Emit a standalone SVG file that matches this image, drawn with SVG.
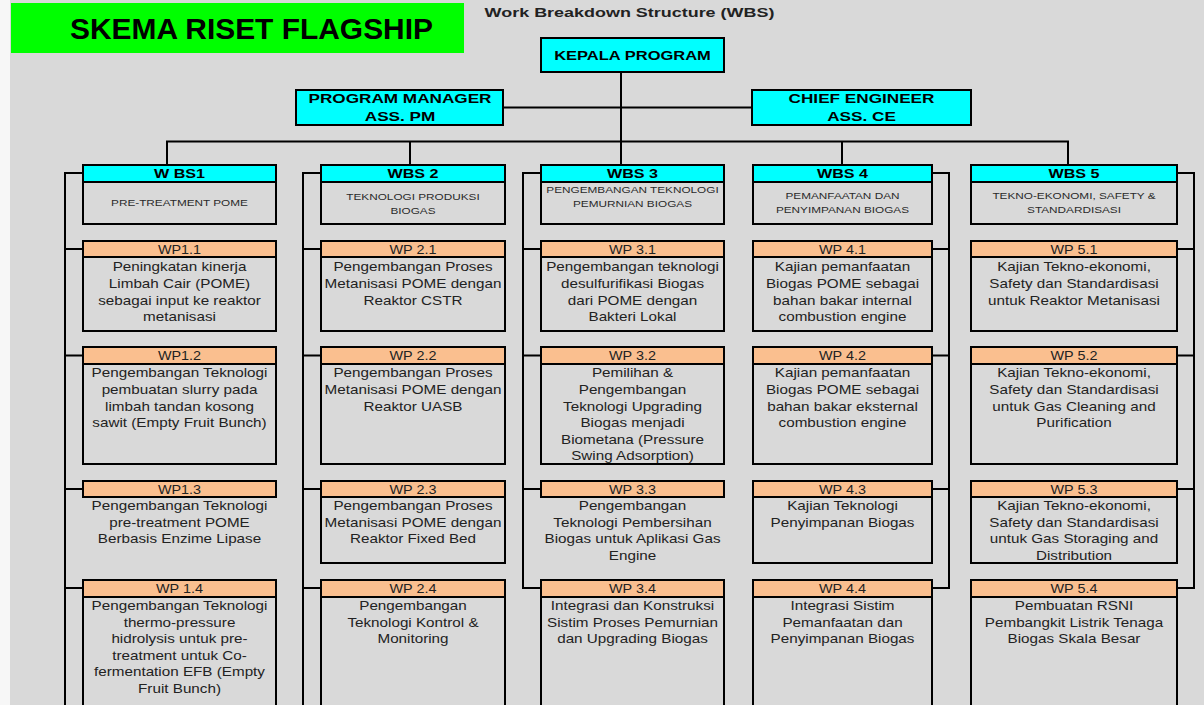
<svg xmlns="http://www.w3.org/2000/svg" width="1204" height="705" viewBox="0 0 1204 705">
<style>
.bx{stroke:#000;stroke-width:2}
.nb{stroke:none}
.cy{fill:#00ffff}
.pe{fill:#fabf8f}
.bd{fill:#d9d9d9}
.t{font-family:"Liberation Sans",Arial,sans-serif;text-anchor:middle;fill:#222}
.hb{font-weight:bold;font-size:13px;fill:#000}
.wb{font-size:9.5px;fill:#2a2a2a}
.wh{font-size:12px}
.wp{font-size:12px}
.ln{stroke:#000;stroke-width:2;fill:none}
</style>
<rect x="0" y="0" width="1204" height="705" fill="#d9d9d9"/>
<rect x="0" y="0" width="10" height="705" fill="#f7f7f7"/>

<g id="title">
<rect x="11" y="3" width="453" height="50" fill="#00ff00"/>
<text x="251.5" y="39" font-family="Liberation Sans,Arial,sans-serif" font-weight="bold" font-size="30" text-anchor="middle" textLength="363" lengthAdjust="spacingAndGlyphs" fill="#000">SKEMA RISET FLAGSHIP</text>
</g>
<g id="subtitle" transform="translate(629.5 0) scale(1.33 1)">
<text class="t" x="0" y="17" font-weight="bold" font-size="13.5" fill="#111">Work Breakdown Structure (WBS)</text>
</g>

<g id="connectors" class="ln">
<path d="M621 72V165"/>
<path d="M503 107.5H752"/>
<path d="M167 165V141.5H1068V165"/>
<path d="M410 141.5V165"/>
<path d="M842 141.5V165"/>
<path d="M83 173H65V705M65 249H83M65 355.5H83M65 489H83M65 588H83"/>
<path d="M321 173H303V705M303 249H321M303 355.5H321M303 489H321M303 588H321"/>
<path d="M541 173H523V588H541M523 249H541M523 355.5H541M523 489H541"/>
<path d="M932 173H949V588H932M949 249H932M949 355.5H932M949 489H932"/>
<path d="M1177 173H1194V588H1177M1194 249H1177M1194 355.5H1177M1194 489H1177"/>
</g>

<g id="kepala">
<rect class="bx cy" x="541" y="38" width="183" height="34"/>
<g transform="translate(632.5 0) scale(1.27 1)"><text class="t hb" x="0" y="60" font-size="14">KEPALA PROGRAM</text></g>
</g>
<g id="pm">
<rect class="bx cy" x="296" y="90" width="207" height="35"/>
<g transform="translate(400 0) scale(1.32 1)" class="t hb" font-size="12.5"><text x="0" y="103.5">PROGRAM MANAGER</text><text x="0" y="121">ASS. PM</text></g>
</g>
<g id="ce">
<rect class="bx cy" x="752" y="90" width="219" height="35"/>
<g transform="translate(861.5 0) scale(1.32 1)" class="t hb" font-size="12.5"><text x="0" y="103.5">CHIEF ENGINEER</text><text x="0" y="121">ASS. CE</text></g>
</g>

<!-- Column 1 -->
<g id="wbs1">
<rect class="bx bd" x="83" y="182" width="193" height="42"/>
<rect class="bx cy" x="83" y="165" width="193" height="17"/>
<g transform="translate(179.5 0) scale(1.24 1)"><text class="t hb" x="0" y="178.5">W BS1</text><text class="t wb" x="0" y="206.5">PRE-TREATMENT POME</text></g>
</g>
<g id="wp1-1">
<rect class="bx bd" x="83" y="257" width="193" height="74"/>
<rect class="bx pe" x="83" y="241" width="193" height="16"/>
<g transform="translate(179.5 0) scale(1.2 1)"><text class="t wh" x="0" y="254">WP1.1</text></g>
<g transform="translate(179.5 0) scale(1.27 1)" class="t wp"><text x="0" y="271.5">Peningkatan kinerja</text><text x="0" y="288">Limbah Cair (POME)</text><text x="0" y="304.7">sebagai input ke reaktor</text><text x="0" y="321.3">metanisasi</text></g>
</g>
<g id="wp1-2">
<rect class="bx bd" x="83" y="364" width="193" height="100"/>
<rect class="bx pe" x="83" y="347" width="193" height="17"/>
<g transform="translate(179.5 0) scale(1.2 1)"><text class="t wh" x="0" y="360.5">WP1.2</text></g>
<g transform="translate(179.5 0) scale(1.27 1)" class="t wp"><text x="0" y="377.5">Pengembangan Teknologi</text><text x="0" y="394">pembuatan slurry pada</text><text x="0" y="410.7">limbah tandan kosong</text><text x="0" y="427.3">sawit (Empty Fruit Bunch)</text></g>
</g>
<g id="wp1-3">
<rect class="nb bd" x="83" y="497" width="193" height="66"/>
<rect class="bx pe" x="83" y="481" width="193" height="16"/>
<g transform="translate(179.5 0) scale(1.2 1)"><text class="t wh" x="0" y="494">WP1.3</text></g>
<g transform="translate(179.5 0) scale(1.27 1)" class="t wp"><text x="0" y="510">Pengembangan Teknologi</text><text x="0" y="526.6">pre-treatment POME</text><text x="0" y="543.2">Berbasis Enzime Lipase</text></g>
</g>
<g id="wp1-4">
<rect class="bx bd" x="83" y="597" width="193" height="130"/>
<rect class="bx pe" x="83" y="580" width="193" height="17"/>
<g transform="translate(179.5 0) scale(1.2 1)"><text class="t wh" x="0" y="593">WP 1.4</text></g>
<g transform="translate(179.5 0) scale(1.27 1)" class="t wp"><text x="0" y="610">Pengembangan Teknologi</text><text x="0" y="626.6">thermo-pressure</text><text x="0" y="643.2">hidrolysis untuk pre-</text><text x="0" y="659.8">treatment untuk Co-</text><text x="0" y="676.4">fermentation EFB (Empty</text><text x="0" y="693">Fruit Bunch)</text></g>
</g>

<!-- Column 2 -->
<g id="wbs2">
<rect class="bx bd" x="321" y="182" width="184" height="42"/>
<rect class="bx cy" x="321" y="165" width="184" height="17"/>
<g transform="translate(413 0) scale(1.24 1)"><text class="t hb" x="0" y="178.5">WBS 2</text><text class="t wb" x="0" y="200">TEKNOLOGI PRODUKSI</text><text class="t wb" x="0" y="214">BIOGAS</text></g>
</g>
<g id="wp2-1">
<rect class="bx bd" x="321" y="257" width="184" height="74"/>
<rect class="bx pe" x="321" y="241" width="184" height="16"/>
<g transform="translate(413 0) scale(1.2 1)"><text class="t wh" x="0" y="254">WP 2.1</text></g>
<g transform="translate(413 0) scale(1.27 1)" class="t wp"><text x="0" y="271.5">Pengembangan Proses</text><text x="0" y="288">Metanisasi POME dengan</text><text x="0" y="304.7">Reaktor CSTR</text></g>
</g>
<g id="wp2-2">
<rect class="bx bd" x="321" y="364" width="184" height="100"/>
<rect class="bx pe" x="321" y="347" width="184" height="17"/>
<g transform="translate(413 0) scale(1.2 1)"><text class="t wh" x="0" y="360.5">WP 2.2</text></g>
<g transform="translate(413 0) scale(1.27 1)" class="t wp"><text x="0" y="377.5">Pengembangan Proses</text><text x="0" y="394">Metanisasi POME dengan</text><text x="0" y="410.7">Reaktor UASB</text></g>
</g>
<g id="wp2-3">
<rect class="bx bd" x="321" y="497" width="184" height="66"/>
<rect class="bx pe" x="321" y="481" width="184" height="16"/>
<g transform="translate(413 0) scale(1.2 1)"><text class="t wh" x="0" y="494">WP 2.3</text></g>
<g transform="translate(413 0) scale(1.27 1)" class="t wp"><text x="0" y="510">Pengembangan Proses</text><text x="0" y="526.6">Metanisasi POME dengan</text><text x="0" y="543.2">Reaktor Fixed Bed</text></g>
</g>
<g id="wp2-4">
<rect class="bx bd" x="321" y="597" width="184" height="130"/>
<rect class="bx pe" x="321" y="580" width="184" height="17"/>
<g transform="translate(413 0) scale(1.2 1)"><text class="t wh" x="0" y="593">WP 2.4</text></g>
<g transform="translate(413 0) scale(1.27 1)" class="t wp"><text x="0" y="610">Pengembangan</text><text x="0" y="626.6">Teknologi Kontrol &amp;</text><text x="0" y="643.2">Monitoring</text></g>
</g>

<!-- Column 3 -->
<g id="wbs3">
<rect class="bx bd" x="541" y="182" width="183" height="42"/>
<rect class="bx cy" x="541" y="165" width="183" height="17"/>
<g transform="translate(632.5 0) scale(1.24 1)"><text class="t hb" x="0" y="178.5">WBS 3</text><text class="t wb" x="0" y="192.6">PENGEMBANGAN TEKNOLOGI</text><text class="t wb" x="0" y="206.6">PEMURNIAN BIOGAS</text></g>
</g>
<g id="wp3-1">
<rect class="bx bd" x="541" y="257" width="183" height="74"/>
<rect class="bx pe" x="541" y="241" width="183" height="16"/>
<g transform="translate(632.5 0) scale(1.2 1)"><text class="t wh" x="0" y="254">WP 3.1</text></g>
<g transform="translate(632.5 0) scale(1.27 1)" class="t wp"><text x="0" y="271.5">Pengembangan teknologi</text><text x="0" y="288">desulfurifikasi Biogas</text><text x="0" y="304.7">dari POME dengan</text><text x="0" y="321.3">Bakteri Lokal</text></g>
</g>
<g id="wp3-2">
<rect class="bx bd" x="541" y="364" width="183" height="100"/>
<rect class="bx pe" x="541" y="347" width="183" height="17"/>
<g transform="translate(632.5 0) scale(1.2 1)"><text class="t wh" x="0" y="360.5">WP 3.2</text></g>
<g transform="translate(632.5 0) scale(1.27 1)" class="t wp"><text x="0" y="377.5">Pemilihan &amp;</text><text x="0" y="394">Pengembangan</text><text x="0" y="410.7">Teknologi Upgrading</text><text x="0" y="427.3">Biogas menjadi</text><text x="0" y="444">Biometana (Pressure</text><text x="0" y="460.3">Swing Adsorption)</text></g>
</g>
<g id="wp3-3">
<rect class="nb bd" x="541" y="497" width="183" height="66"/>
<rect class="bx pe" x="541" y="481" width="183" height="16"/>
<g transform="translate(632.5 0) scale(1.2 1)"><text class="t wh" x="0" y="494">WP 3.3</text></g>
<g transform="translate(632.5 0) scale(1.27 1)" class="t wp"><text x="0" y="510">Pengembangan</text><text x="0" y="526.6">Teknologi Pembersihan</text><text x="0" y="543.2">Biogas untuk Aplikasi Gas</text><text x="0" y="559.8">Engine</text></g>
</g>
<g id="wp3-4">
<rect class="bx bd" x="541" y="597" width="183" height="130"/>
<rect class="bx pe" x="541" y="580" width="183" height="17"/>
<g transform="translate(632.5 0) scale(1.2 1)"><text class="t wh" x="0" y="593">WP 3.4</text></g>
<g transform="translate(632.5 0) scale(1.27 1)" class="t wp"><text x="0" y="610">Integrasi dan Konstruksi</text><text x="0" y="626.6">Sistim Proses Pemurnian</text><text x="0" y="643.2">dan Upgrading Biogas</text></g>
</g>

<!-- Column 4 -->
<g id="wbs4">
<rect class="bx bd" x="753" y="182" width="179" height="42"/>
<rect class="bx cy" x="753" y="165" width="179" height="17"/>
<g transform="translate(842.5 0) scale(1.24 1)"><text class="t hb" x="0" y="178.5">WBS 4</text><text class="t wb" x="0" y="199.5">PEMANFAATAN DAN</text><text class="t wb" x="0" y="213.5">PENYIMPANAN BIOGAS</text></g>
</g>
<g id="wp4-1">
<rect class="bx bd" x="753" y="257" width="179" height="74"/>
<rect class="bx pe" x="753" y="241" width="179" height="16"/>
<g transform="translate(842.5 0) scale(1.2 1)"><text class="t wh" x="0" y="254">WP 4.1</text></g>
<g transform="translate(842.5 0) scale(1.27 1)" class="t wp"><text x="0" y="271.5">Kajian pemanfaatan</text><text x="0" y="288">Biogas POME sebagai</text><text x="0" y="304.7">bahan bakar internal</text><text x="0" y="321.3">combustion engine</text></g>
</g>
<g id="wp4-2">
<rect class="bx bd" x="753" y="364" width="179" height="100"/>
<rect class="bx pe" x="753" y="347" width="179" height="17"/>
<g transform="translate(842.5 0) scale(1.2 1)"><text class="t wh" x="0" y="360.5">WP 4.2</text></g>
<g transform="translate(842.5 0) scale(1.27 1)" class="t wp"><text x="0" y="377.5">Kajian pemanfaatan</text><text x="0" y="394">Biogas POME sebagai</text><text x="0" y="410.7">bahan bakar eksternal</text><text x="0" y="427.3">combustion engine</text></g>
</g>
<g id="wp4-3">
<rect class="bx bd" x="753" y="497" width="179" height="66"/>
<rect class="bx pe" x="753" y="481" width="179" height="16"/>
<g transform="translate(842.5 0) scale(1.2 1)"><text class="t wh" x="0" y="494">WP 4.3</text></g>
<g transform="translate(842.5 0) scale(1.27 1)" class="t wp"><text x="0" y="510">Kajian Teknologi</text><text x="0" y="526.6">Penyimpanan Biogas</text></g>
</g>
<g id="wp4-4">
<rect class="bx bd" x="753" y="597" width="179" height="130"/>
<rect class="bx pe" x="753" y="580" width="179" height="17"/>
<g transform="translate(842.5 0) scale(1.2 1)"><text class="t wh" x="0" y="593">WP 4.4</text></g>
<g transform="translate(842.5 0) scale(1.27 1)" class="t wp"><text x="0" y="610">Integrasi Sistim</text><text x="0" y="626.6">Pemanfaatan dan</text><text x="0" y="643.2">Penyimpanan Biogas</text></g>
</g>

<!-- Column 5 -->
<g id="wbs5">
<rect class="bx bd" x="971" y="182" width="206" height="42"/>
<rect class="bx cy" x="971" y="165" width="206" height="17"/>
<g transform="translate(1074 0) scale(1.24 1)"><text class="t hb" x="0" y="178.5">WBS 5</text><text class="t wb" x="0" y="199.5">TEKNO-EKONOMI, SAFETY &amp;</text><text class="t wb" x="0" y="213.5">STANDARDISASI</text></g>
</g>
<g id="wp5-1">
<rect class="bx bd" x="971" y="257" width="206" height="74"/>
<rect class="bx pe" x="971" y="241" width="206" height="16"/>
<g transform="translate(1074 0) scale(1.2 1)"><text class="t wh" x="0" y="254">WP 5.1</text></g>
<g transform="translate(1074 0) scale(1.27 1)" class="t wp"><text x="0" y="271.5">Kajian Tekno-ekonomi,</text><text x="0" y="288">Safety dan Standardisasi</text><text x="0" y="304.7">untuk Reaktor Metanisasi</text></g>
</g>
<g id="wp5-2">
<rect class="bx bd" x="971" y="364" width="206" height="100"/>
<rect class="bx pe" x="971" y="347" width="206" height="17"/>
<g transform="translate(1074 0) scale(1.2 1)"><text class="t wh" x="0" y="360.5">WP 5.2</text></g>
<g transform="translate(1074 0) scale(1.27 1)" class="t wp"><text x="0" y="377.5">Kajian Tekno-ekonomi,</text><text x="0" y="394">Safety dan Standardisasi</text><text x="0" y="410.7">untuk Gas Cleaning and</text><text x="0" y="427.3">Purification</text></g>
</g>
<g id="wp5-3">
<rect class="bx bd" x="971" y="497" width="206" height="66"/>
<rect class="bx pe" x="971" y="481" width="206" height="16"/>
<g transform="translate(1074 0) scale(1.2 1)"><text class="t wh" x="0" y="494">WP 5.3</text></g>
<g transform="translate(1074 0) scale(1.27 1)" class="t wp"><text x="0" y="510">Kajian Tekno-ekonomi,</text><text x="0" y="526.6">Safety dan Standardisasi</text><text x="0" y="543.2">untuk Gas Storaging and</text><text x="0" y="559.8">Distribution</text></g>
</g>
<g id="wp5-4">
<rect class="bx bd" x="971" y="597" width="206" height="130"/>
<rect class="bx pe" x="971" y="580" width="206" height="17"/>
<g transform="translate(1074 0) scale(1.2 1)"><text class="t wh" x="0" y="593">WP 5.4</text></g>
<g transform="translate(1074 0) scale(1.27 1)" class="t wp"><text x="0" y="610">Pembuatan RSNI</text><text x="0" y="626.6">Pembangkit Listrik Tenaga</text><text x="0" y="643.2">Biogas Skala Besar</text></g>
</g>
</svg>
